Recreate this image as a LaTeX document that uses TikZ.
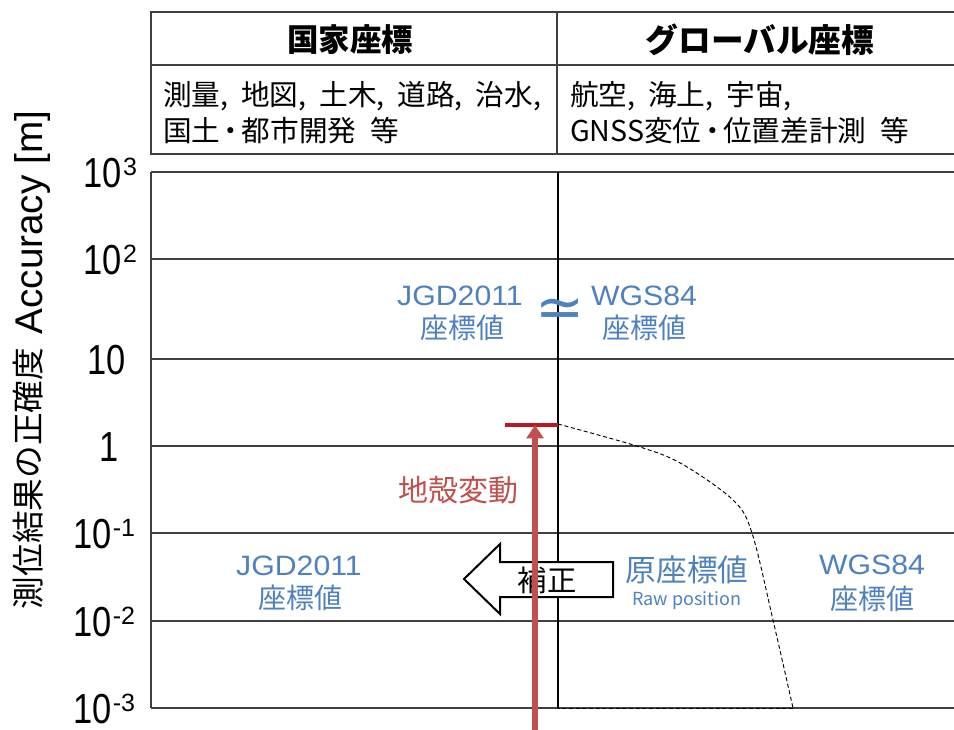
\documentclass[tikz,border=0pt]{standalone}
\usepackage{fontspec}
\usepackage{graphicx}
\usetikzlibrary{arrows.meta}
\setmainfont{Liberation Sans}
\newfontfamily\jp{Noto Sans CJK JP}
\newfontfamily\djv{DejaVu Sans}
\definecolor{gridc}{RGB}{64,64,64}
\definecolor{blu}{RGB}{79,129,189}
\definecolor{redt}{RGB}{192,80,77}
\definecolor{redbar}{RGB}{185,25,35}
\newcommand\fsz[1]{\fontsize{#1}{#1}\selectfont}
\newcommand\sx[2]{\scalebox{#1}[1]{#2}}
\newcommand\nd{\makebox[0.75em]{・}}
\newcommand\cm{,\hspace{0.45em}}
\newcommand\supr[1]{\hspace{1pt}\raisebox{9pt}{\fsz{18.75pt}#1}}
\begin{document}
\begin{tikzpicture}[x=0.75pt,y=-0.75pt,
  txt/.style={inner sep=0pt,outer sep=0pt},
  tick/.style={txt,anchor=base east},
  tbl/.style={draw=gridc,line width=1.6pt},
  grid/.style={draw=gridc,line width=1.6pt},
  divl/.style={draw=black,line width=0.9pt},
  bluelbl/.style={txt,text=blu,anchor=base},
  bluejp/.style={txt,text=blu},
  dashcurve/.style={draw=black,line width=0.7pt,dash pattern=on 3pt off 2pt}]
\useasboundingbox (0,0) rectangle (954,729);
\clip (0,0) rectangle (954,729);

% ---- table ----
\draw[tbl] (151,12) rectangle (980,154);
\draw[tbl] (151,65) -- (980,65);
\draw[tbl] (557,12) -- (557,154);
\node[txt] (h1) at (350,40) {\jp\bfseries\fsz{23.6pt}国家座標};
\node[txt] (h2) at (760,40) {\jp\bfseries\fsz{24.5pt}グローバル座標};
\node[txt,anchor=west] (b1a) at (163,96) {\jp\fsz{21.5pt}測量\cm 地図\cm 土木\cm 道路\cm 治水,};
\node[txt,anchor=west] (b1b) at (163,131) {\jp\fsz{21.5pt}国土\nd 都市開発\hspace{0.5em}等};
\node[txt,anchor=west] (b2a) at (570,96) {\jp\fsz{21.5pt}航空\cm 海上\cm 宇宙,};
\node[txt,anchor=west] (b2b) at (570,131) {\jp\fsz{21.5pt}GNSS変位\nd 位置差計測\hspace{0.5em}等};

% ---- plot frame and grid ----
\draw[grid] (151,172) -- (980,172);
\draw[grid] (151,172) -- (151,708);
\foreach \yy in {259,359,446,533,621,708}{\draw[grid] (151,\yy) -- (980,\yy);}
\draw[divl] (558,172) -- (558,708);

% ---- tick labels ----
\node[tick] (l3) at (137,187) {\sx{0.82}{\fsz{31.5pt}10}\supr{3}};
\node[tick] (l2) at (137,274) {\sx{0.82}{\fsz{31.5pt}10}\supr{2}};
\node[tick] (l1) at (126,374) {\sx{0.82}{\fsz{31.5pt}10}};
\node[tick] (l0) at (119,461) {\sx{0.82}{\fsz{31.5pt}1}};
\node[tick] (lm1) at (135,548) {\sx{0.82}{\fsz{31.5pt}10}\supr{-1}};
\node[tick] (lm2) at (135,636) {\sx{0.82}{\fsz{31.5pt}10}\supr{-2}};
\node[tick] (lm3) at (135,723) {\sx{0.82}{\fsz{31.5pt}10}\supr{-3}};

% ---- axis label ----
\node[txt,rotate=90,anchor=base] (ylab) at (42,360) {\raisebox{1.5pt}{\jp\fsz{24.5pt}測位結果の正確度}\hspace{10pt}{\fsz{29pt}Accuracy [m]}};

% ---- dashed region ----
\draw[dashcurve] plot[smooth,tension=0.55] coordinates {(558,424) (640,447) (682,464) (733,500) (752,533) (773,620) (793,708)};
\draw[dashcurve] (793,708) -- (558,708);

% ---- blue labels, top ----
\node[bluelbl] (jgdA) at (460,305) {\sx{1.08}{\fsz{21pt}JGD2011}};
\node[bluejp] (jgdAv) at (462,328) {\jp\fsz{21pt}座標値};
\node[txt,text=blu,anchor=base] (approx) at (560,327) {\djv\fsz{44pt}≃};
\node[bluelbl] (wgsA) at (644,305) {\sx{1.08}{\fsz{21pt}WGS84}};
\node[bluejp] (wgsAv) at (644,328) {\jp\fsz{21pt}座標値};

% ---- blue labels, bottom ----
\node[bluelbl] (jgdB) at (299,575) {\sx{1.08}{\fsz{21pt}JGD2011}};
\node[bluejp] (jgdBv) at (300,598) {\jp\fsz{21pt}座標値};
\node[bluelbl] (wgsB) at (872,574) {\sx{1.08}{\fsz{21pt}WGS84}};
\node[bluejp] (wgsBv) at (872,599) {\jp\fsz{21pt}座標値};
\node[bluejp] (raw) at (687,570) {\jp\fsz{23pt}原座標値};
\node[bluejp] (rawen) at (687,601) {\jp\fsz{13.5pt}Raw position};

% ---- correction block arrow ----
\draw[fill=white,draw=black,line width=1.5pt] (613,562) -- (500,562) -- (500,544) -- (464,579) -- (500,614) -- (500,597) -- (613,597) -- cycle;
\node[txt] (hosei) at (547,580) {\jp\fsz{22pt}補正};

% ---- crustal deformation ----
\node[txt,text=redt] (chikaku) at (458,490) {\jp\fsz{22.5pt}地殻変動};
\coordinate (barL) at (505,425);
\coordinate (barR) at (558,425);
\draw[redbar,line width=3pt] (barL) -- (barR);
\coordinate (arrBot) at (535,745);
\coordinate (arrTop) at (535,425);
\draw[redt,line width=4.5pt,-{Triangle[width=12.5pt,length=10pt]}] (arrBot) -- (arrTop);
\end{tikzpicture}
\end{document}
